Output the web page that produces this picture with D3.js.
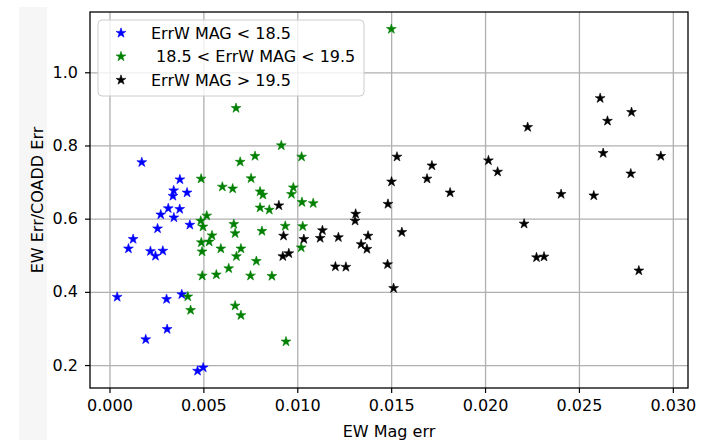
<!DOCTYPE html>
<html>
<head>
<meta charset="utf-8">
<script src="https://cdn.jsdelivr.net/npm/d3@7"></script>
<style>
  body { margin: 0; background: #fff; }
  text { font-family: "DejaVu Sans", sans-serif; }
</style>
</head>
<body>
<script>
// ErrW MAG < 18.5
var blueX = [0.00172, 0.00375, 0.00342, 0.00413, 0.00338, 0.00313, 0.00374, 0.00273, 0.00343, 0.00428,
             0.00256, 0.00126, 0.00101, 0.00218, 0.00245, 0.00284, 0.00041, 0.00304, 0.00385, 0.00307,
             0.00193, 0.00469, 0.00499];
var blueY = [0.754, 0.707, 0.677, 0.671, 0.662, 0.628, 0.626, 0.611, 0.603, 0.583,
             0.573, 0.544, 0.518, 0.511, 0.498, 0.512, 0.386, 0.380, 0.393, 0.298,
             0.270, 0.184, 0.193];

// 18.5 < ErrW MAG < 19.5
var greenX = [0.00674, 0.00915, 0.01023, 0.00775, 0.00696, 0.00488, 0.00754, 0.00601, 0.00656, 0.00979,
              0.00802, 0.00817, 0.00969, 0.01025, 0.01085, 0.00802, 0.00851, 0.00518, 0.00486, 0.00498,
              0.00662, 0.00936, 0.01029, 0.00812, 0.00669, 0.00546, 0.00531, 0.00489, 0.00493, 0.00593,
              0.00700, 0.01021, 0.00676, 0.00782, 0.00635, 0.00494, 0.00569, 0.00751, 0.00865, 0.00417,
              0.00432, 0.00669, 0.00700, 0.00940, 0.01501];
var greenY = [0.902, 0.800, 0.769, 0.771, 0.755, 0.709, 0.710, 0.687, 0.682, 0.685,
              0.674, 0.665, 0.667, 0.645, 0.642, 0.630, 0.624, 0.608, 0.594, 0.578,
              0.585, 0.580, 0.579, 0.566, 0.560, 0.554, 0.537, 0.535, 0.510, 0.518,
              0.518, 0.521, 0.497, 0.484, 0.464, 0.444, 0.447, 0.444, 0.443, 0.387,
              0.350, 0.362, 0.336, 0.264, 1.118];

// ErrW MAG > 19.5
var blackX = [0.00902, 0.00927, 0.01035, 0.00923, 0.00955, 0.01134, 0.01122, 0.01219, 0.01311, 0.01308,
              0.01377, 0.01340, 0.01371, 0.01203, 0.01259, 0.01483, 0.01502, 0.01557, 0.01481, 0.01513,
              0.01531, 0.01717, 0.01691, 0.01814, 0.02018, 0.02067, 0.02227, 0.02405, 0.02208, 0.02274,
              0.02314, 0.02613, 0.02780, 0.02652, 0.02629, 0.02936, 0.02776, 0.02579, 0.02819];
var blackY = [0.636, 0.553, 0.544, 0.497, 0.505, 0.568, 0.547, 0.549, 0.613, 0.594,
              0.553, 0.530, 0.517, 0.469, 0.468, 0.640, 0.701, 0.563, 0.475, 0.410,
              0.769, 0.745, 0.709, 0.671, 0.759, 0.728, 0.850, 0.667, 0.586, 0.494,
              0.496, 0.929, 0.891, 0.867, 0.779, 0.771, 0.723, 0.663, 0.458];

var seriesLabels = ["ErrW MAG < 18.5", " 18.5 < ErrW MAG < 19.5", "ErrW MAG > 19.5"];
var seriesColors = ["#0000ff", "#008000", "#000000"];

var xTicks = [0.000, 0.005, 0.010, 0.015, 0.020, 0.025, 0.030];
var yTicks = [0.2, 0.4, 0.6, 0.8, 1.0];

var svgWidth = 705;
var svgHeight = 440;

var margin = {
    top: 12,
    right: 17,
    bottom: 52,
    left: 90
};

var width = svgWidth - margin.left - margin.right;
var height = svgHeight - margin.top - margin.bottom;

var fontSize = "16px";

var svg = d3.select("body")
            .append("svg")
            .attr("width", svgWidth)
            .attr("height", svgHeight);

// faint strip at the left edge of the picture
svg.append("rect")
    .attr("x", 19)
    .attr("y", 7)
    .attr("width", 28)
    .attr("height", svgHeight - 7)
    .attr("fill", "#f6f6f6");

var chartGroup = svg.append("g")
    .attr("transform", `translate(${margin.left}, ${margin.top})`);

var series = [
    {x: blueX, y: blueY},
    {x: greenX, y: greenY},
    {x: blackX, y: blackY}
].map(function(s, i) {
    return {
        label: seriesLabels[i],
        color: seriesColors[i],
        points: s.x.map((v, j) => ({x: v, y: s.y[j]}))
    };
});

var allPoints = d3.merge(series.map(s => s.points));

// 5% padding like matplotlib autoscale
function padded(ext) {
    var span = ext[1] - ext[0];
    return [ext[0] - 0.05 * span, ext[1] + 0.05 * span];
}

var xScale = d3.scaleLinear()
    .domain(padded(d3.extent(allPoints, d => d.x)))
    .range([0, width]);

var yScale = d3.scaleLinear()
    .domain(padded(d3.extent(allPoints, d => d.y)))
    .range([height, 0]);

// grid
chartGroup.append("g")
    .attr("class", "grid")
    .attr("transform", `translate(0, ${height})`)
    .call(d3.axisBottom(xScale).tickValues(xTicks).tickSize(-height).tickFormat(""))
    .call(g => g.select(".domain").remove());

chartGroup.append("g")
    .attr("class", "grid")
    .call(d3.axisLeft(yScale).tickValues(yTicks).tickSize(-width).tickFormat(""))
    .call(g => g.select(".domain").remove());

chartGroup.selectAll(".grid line")
    .attr("stroke", "#b0b0b0")
    .attr("stroke-width", 1.3);

// points
var star = d3.symbol().type(d3.symbolStar).size(30);

series.forEach(function(s) {
    chartGroup.append("g")
        .selectAll("path")
        .data(s.points)
        .enter()
        .append("path")
        .attr("d", star)
        .attr("transform", d => `translate(${xScale(d.x)}, ${yScale(d.y)})`)
        .attr("fill", s.color)
        .attr("stroke", s.color)
        .attr("stroke-width", 0.6);
});

// axes
var bottomAxis = d3.axisBottom(xScale)
    .tickValues(xTicks)
    .tickSize(5)
    .tickPadding(7)
    .tickFormat(d3.format(".3f"));

var leftAxis = d3.axisLeft(yScale)
    .tickValues(yTicks)
    .tickSize(5)
    .tickPadding(7)
    .tickFormat(d3.format(".1f"));

chartGroup.append("g")
    .attr("transform", `translate(0, ${height})`)
    .call(bottomAxis)
    .call(g => g.select(".domain").remove());

chartGroup.append("g")
    .call(leftAxis)
    .call(g => g.select(".domain").remove());

chartGroup.selectAll(".tick text")
    .attr("font-family", "DejaVu Sans")
    .attr("font-size", fontSize)
    .attr("fill", "#000");

chartGroup.selectAll(".tick line")
    .filter(function() { return !this.closest(".grid"); })
    .attr("stroke", "#000")
    .attr("stroke-width", 1.2);

// frame
chartGroup.append("rect")
    .attr("width", width)
    .attr("height", height)
    .attr("fill", "none")
    .attr("stroke", "#000")
    .attr("stroke-width", 1.3);

// axis labels
svg.append("text")
    .attr("x", margin.left + width / 2)
    .attr("y", 437)
    .attr("text-anchor", "middle")
    .attr("font-size", fontSize)
    .text("EW Mag err");

svg.append("text")
    .attr("transform", `translate(43, ${margin.top + height / 2}) rotate(-90)`)
    .attr("text-anchor", "middle")
    .attr("font-size", fontSize)
    .text("EW Err/COADD Err");

// legend
var legend = chartGroup.append("g")
    .attr("transform", "translate(8, 8)");

legend.append("rect")
    .attr("width", 266)
    .attr("height", 76)
    .attr("rx", 4)
    .attr("fill", "#fff")
    .attr("fill-opacity", 0.8)
    .attr("stroke", "#cccccc")
    .attr("stroke-width", 1);

var entries = legend.selectAll(".entry")
    .data(series)
    .enter()
    .append("g")
    .attr("class", "entry")
    .attr("transform", (d, i) => `translate(0, ${13 + i * 23.5})`);

entries.append("path")
    .attr("d", star)
    .attr("transform", "translate(23, 0)")
    .attr("fill", d => d.color)
    .attr("stroke", d => d.color)
    .attr("stroke-width", 0.6);

entries.append("text")
    .attr("x", 53)
    .attr("dy", "0.36em")
    .attr("font-size", fontSize)
    .style("white-space", "pre")
    .text(d => d.label);
</script>
</body>
</html>
